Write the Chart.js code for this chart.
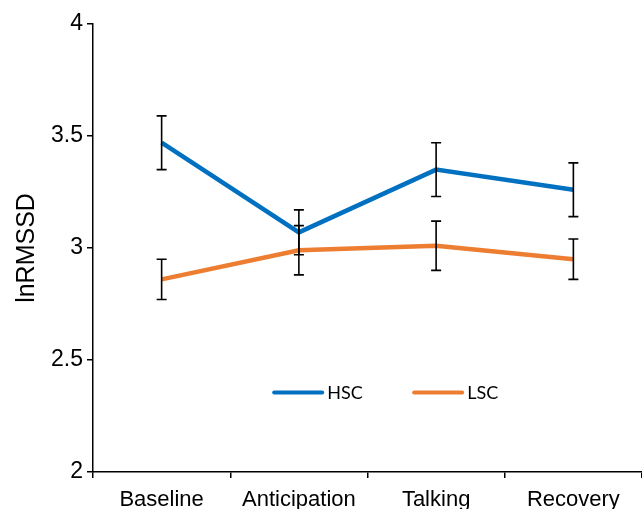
<!DOCTYPE html>
<html>
<head>
<meta charset="utf-8">
<script src="https://cdn.jsdelivr.net/npm/chart.js@4.4.1/dist/chart.umd.min.js"></script>
<style>
  html, body { margin: 0; padding: 0; background: #ffffff; }
  #wrap { width: 642px; height: 509px; }
</style>
</head>
<body>
<div id="wrap"><canvas id="c" width="642" height="509"></canvas></div>
<script>
const categories = ['Baseline', 'Anticipation', 'Talking', 'Recovery'];
const hscValues = [3.47, 3.07, 3.35, 3.26];
const hscErrors = [0.12, 0.10, 0.12, 0.12];
const lscValues = [2.86, 2.99, 3.01, 2.95];
const lscErrors = [0.09, 0.11, 0.11, 0.09];
const yTicks = [2, 2.5, 3, 3.5, 4];

const errorBarPlugin = {
  id: 'errorBars',
  afterDatasetsDraw(chart) {
    const ctx = chart.ctx;
    const x = chart.scales.x, y = chart.scales.y;
    ctx.save();
    ctx.strokeStyle = '#000000';
    ctx.lineWidth = 1.6;
    chart.data.datasets.forEach(ds => {
      ds.values.forEach((v, i) => {
        const e = ds.errors[i];
        const px = x.getPixelForValue(i);
        const top = y.getPixelForValue(v + e);
        const bot = y.getPixelForValue(v - e);
        ctx.beginPath();
        ctx.moveTo(px, top); ctx.lineTo(px, bot);
        ctx.moveTo(px - 5, top); ctx.lineTo(px + 5, top);
        ctx.moveTo(px - 5, bot); ctx.lineTo(px + 5, bot);
        ctx.stroke();
      });
    });
    ctx.restore();
  }
};

const legendPlugin = {
  id: 'innerLegend',
  afterDraw(chart) {
    const ctx = chart.ctx;
    const x = chart.scales.x, y = chart.scales.y;
    const yPix = y.getPixelForValue(2.355);
    const starts = [x.getPixelForValue(0.82), x.getPixelForValue(1.84)];
    ctx.save();
    ctx.font = '18px Lato';
    ctx.textBaseline = 'middle';
    ctx.textAlign = 'left';
    chart.data.datasets.forEach((ds, i) => {
      const sx = starts[i];
      ctx.strokeStyle = ds.borderColor;
      ctx.lineWidth = 4;
      ctx.lineCap = 'round';
      ctx.beginPath();
      ctx.moveTo(sx, yPix); ctx.lineTo(sx + 48, yPix);
      ctx.stroke();
      ctx.fillStyle = '#000000';
      ctx.fillText(ds.label, sx + 53, yPix + 1);
    });
    ctx.restore();
  }
};

new Chart(document.getElementById('c'), {
  type: 'line',
  data: {
    labels: categories,
    datasets: [
      { label: 'HSC', data: hscValues, values: hscValues, errors: hscErrors,
        borderColor: '#0070C0', backgroundColor: '#0070C0', borderWidth: 4.5,
        pointRadius: 0, tension: 0, fill: false },
      { label: 'LSC', data: lscValues, values: lscValues, errors: lscErrors,
        borderColor: '#ED7D31', backgroundColor: '#ED7D31', borderWidth: 4.5,
        pointRadius: 0, tension: 0, fill: false }
    ]
  },
  options: {
    responsive: false,
    animation: false,
    layout: { padding: { top: 24, left: 0, right: -2, bottom: 0 } },
    plugins: { legend: { display: false }, tooltip: { enabled: false } },
    scales: {
      x: {
        type: 'category',
        offset: true,
        grid: { display: true, offset: true, drawOnChartArea: false, drawTicks: true,
                tickLength: 6, color: '#000000', lineWidth: 1.5 },
        border: { display: true, color: '#000000', width: 1.5 },
        ticks: { color: '#000000', font: { family: 'Liberation Sans, Arial', size: 22 }, padding: 9,
                 maxRotation: 0, autoSkip: false },
        afterFit(s) { s.height = 37; }
      },
      y: {
        min: 2, max: 4,
        afterBuildTicks(s) { s.ticks = yTicks.map(v => ({ value: v })); },
        grid: { display: true, drawOnChartArea: false, drawTicks: true, tickLength: 6,
                color: '#000000', lineWidth: 1.5 },
        border: { display: true, color: '#000000', width: 1.5 },
        ticks: { color: '#000000', font: { family: 'Liberation Sans, Arial', size: 23 }, padding: 4,
                 callback: v => String(v) },
        title: { display: true, text: 'lnRMSSD', color: '#000000',
                 font: { family: 'Liberation Sans, Arial', size: 25 }, padding: { top: 12, bottom: 0 } },
        afterFit(s) { s.width = 93; }
      }
    }
  },
  plugins: [errorBarPlugin, legendPlugin]
});
</script>
</body>
</html>
